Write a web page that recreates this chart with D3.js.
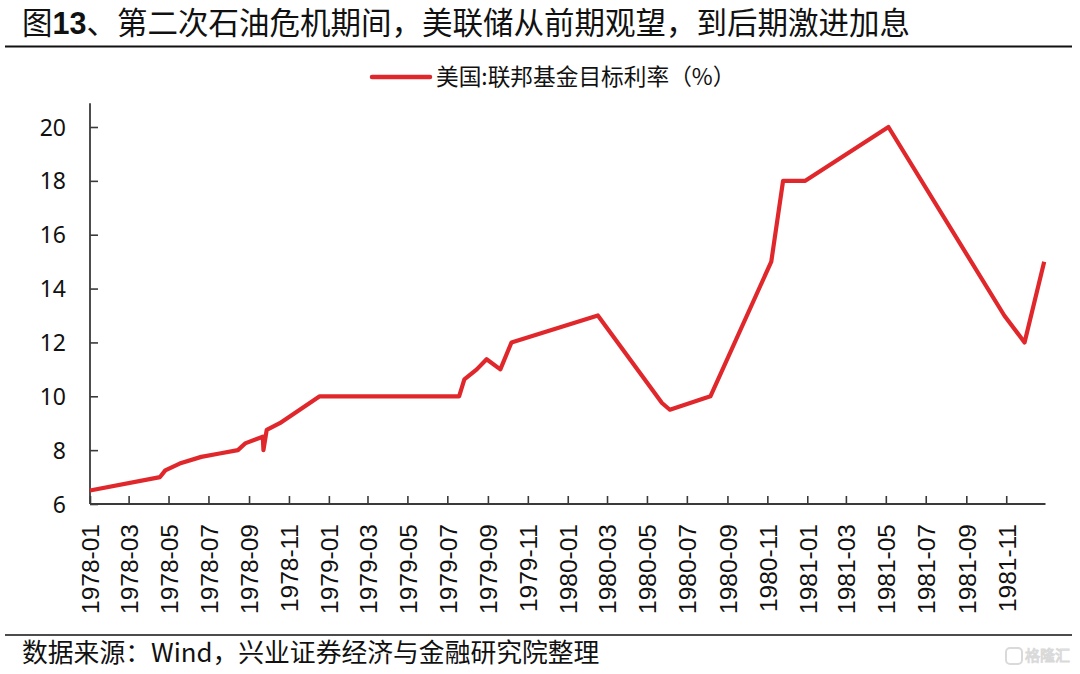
<!DOCTYPE html>
<html>
<head>
<meta charset="utf-8">
<script src="https://cdn.jsdelivr.net/npm/d3@7"></script>
<style>
  html, body { margin: 0; padding: 0; background: #fff; }
  svg { display: block; }
</style>
</head>
<body>
<svg id="chart" width="1080" height="674"></svg>
<script>
// ---- data ----
const dates = [
  "1978-01-01","1978-04-18","1978-04-26","1978-05-18","1978-06-20","1978-07-18",
  "1978-08-15","1978-08-26","1978-09-22","1978-09-23","1978-09-28","1978-10-18",
  "1978-12-18","1979-07-19","1979-07-27","1979-08-15","1979-08-30","1979-09-20",
  "1979-10-07","1980-02-16","1980-05-24","1980-06-05","1980-08-06","1980-11-07",
  "1980-11-25","1980-12-29","1981-05-05","1981-10-29","1981-11-29","1981-12-29"
];
const rates = [
  6.5, 7.0, 7.25, 7.5, 7.75, 7.875,
  8.0, 8.25, 8.5, 8.0, 8.75, 9.0,
  10.0, 10.0, 10.625, 11.0, 11.375, 11.0,
  12.0, 13.0, 9.75, 9.5, 10.0, 15.0,
  18.0, 18.0, 20.0, 13.0, 12.0, 15.0
];
const yTicks = [6, 8, 10, 12, 14, 16, 18, 20];
const xTickLabels = [
  "1978-01","1978-03","1978-05","1978-07","1978-09","1978-11",
  "1979-01","1979-03","1979-05","1979-07","1979-09","1979-11",
  "1980-01","1980-03","1980-05","1980-07","1980-09","1980-11",
  "1981-01","1981-03","1981-05","1981-07","1981-09","1981-11"
];
const seriesName = "美国:联邦基金目标利率（%）";
const titleParts = ["图", "13", "、第二次石油危机期间，美联储从前期观望，到后期激进加息"];
const sourceText = "数据来源：Wind，兴业证券经济与金融研究院整理";

// ---- build ----
const parse = d3.utcParse("%Y-%m-%d");
const parseM = d3.utcParse("%Y-%m");
const data = dates.map((d, i) => ({ date: parse(d), value: rates[i] }));

const svg = d3.select("#chart");
const pLeft = 90, pRight = 1045.5, pTop = 103.3, pBottom = 504;

const x = d3.scaleUtc()
  .domain([parse("1978-01-01"), parse("1981-12-31")])
  .range([pLeft, pRight]);
const y = d3.scaleLinear()
  .domain([6, 20.88])
  .range([pBottom, pTop]);

const axisColor = "#3a3a3a";

// Title
const title = svg.append("text")
  .attr("x", 22).attr("y", 34)
  .attr("font-family", "'Noto Sans CJK SC', sans-serif")
  .attr("font-size", 30.5)
  .attr("fill", "#111");
title.append("tspan").text(titleParts[0]);
title.append("tspan").attr("font-family", "'Liberation Sans', Arial, sans-serif")
  .attr("font-weight", "bold").text(titleParts[1]);
title.append("tspan").text(titleParts[2]);

svg.append("line").attr("x1", 5).attr("x2", 1072).attr("y1", 46.5).attr("y2", 46.5)
  .attr("stroke", "#111").attr("stroke-width", 1.8);

// Legend
svg.append("line").attr("x1", 372).attr("x2", 430).attr("y1", 77).attr("y2", 77)
  .attr("stroke", "#e0282c").attr("stroke-width", 4.5).attr("stroke-linecap", "round");
svg.append("text").attr("x", 436).attr("y", 77).attr("dy", "0.36em")
  .attr("font-family", "'Noto Sans CJK SC', sans-serif")
  .attr("font-size", 22.7).attr("fill", "#111")
  .text(seriesName);

// Y axis
const yAxis = d3.axisLeft(y).tickValues(yTicks).tickSize(-8).tickPadding(24)
  .tickSizeOuter(0);
const gy = svg.append("g").attr("transform", `translate(${pLeft},0)`).call(yAxis);
gy.select(".domain").remove();
gy.selectAll(".tick line").attr("stroke", axisColor).attr("stroke-width", 1.6);
gy.selectAll(".tick text")
  .attr("font-family", "'Noto Sans', 'Open Sans', sans-serif")
  .attr("font-size", 23).attr("fill", "#111").attr("dy", "0.35em");
svg.append("line").attr("x1", pLeft).attr("x2", pLeft).attr("y1", pTop).attr("y2", pBottom)
  .attr("stroke", axisColor).attr("stroke-width", 1.8);

// X axis
const xTicks = xTickLabels.map(parseM);
const xAxis = d3.axisBottom(x).tickValues(xTicks).tickSize(-8).tickPadding(0)
  .tickFormat(d3.utcFormat("%Y-%m")).tickSizeOuter(0);
const gx = svg.append("g").attr("transform", `translate(0,${pBottom})`).call(xAxis);
gx.select(".domain").remove();
gx.selectAll(".tick line").attr("stroke", axisColor).attr("stroke-width", 1.6);
gx.selectAll(".tick text")
  .attr("font-family", "'Liberation Sans', Arial, sans-serif")
  .attr("font-size", 24.5).attr("fill", "#111")
  .attr("text-anchor", "end")
  .attr("transform", "translate(0,20) rotate(-90)")
  .attr("x", 0).attr("y", 0).attr("dy", "0.36em");
svg.append("line").attr("x1", pLeft).attr("x2", pRight).attr("y1", pBottom).attr("y2", pBottom)
  .attr("stroke", axisColor).attr("stroke-width", 1.8);

// Line
const line = d3.line().x(d => x(d.date)).y(d => y(d.value));
svg.append("path").datum(data)
  .attr("d", line)
  .attr("fill", "none")
  .attr("stroke", "#e0282c")
  .attr("stroke-width", 4.2)
  .attr("stroke-linejoin", "round")
  .attr("stroke-linecap", "butt");

// Footer
svg.append("line").attr("x1", 5).attr("x2", 1072).attr("y1", 635).attr("y2", 635)
  .attr("stroke", "#111").attr("stroke-width", 1.6);
svg.append("text").attr("x", 22).attr("y", 653).attr("dy", "0.36em")
  .attr("font-family", "'Noto Sans CJK SC', sans-serif")
  .attr("font-size", 25.8).attr("fill", "#111")
  .text(sourceText);

// Watermark
const wm = svg.append("g").attr("opacity", 0.55);
wm.append("rect").attr("x", 1006).attr("y", 648).attr("width", 16).attr("height", 16)
  .attr("rx", 4).attr("fill", "none").attr("stroke", "#bbb").attr("stroke-width", 2);
wm.append("text").attr("x", 1025).attr("y", 656).attr("dy", "0.36em")
  .attr("font-family", "'Noto Sans CJK SC', sans-serif")
  .attr("font-size", 15).attr("fill", "#fff").attr("stroke", "#bbb").attr("stroke-width", 1)
  .text("格隆汇");
</script>
</body>
</html>
